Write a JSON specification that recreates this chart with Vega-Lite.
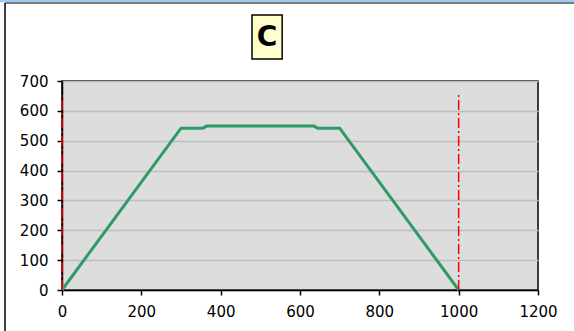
{
  "$schema": "https://vega.github.io/schema/vega-lite/v6.json",
  "width": 476,
  "height": 209,
  "autosize": {"type": "none"},
  "padding": {"left": 62, "top": 81, "right": 36, "bottom": 41},
  "background": "white",
  "config": {
    "view": {"fill": "#DDDDDD", "stroke": "black", "strokeWidth": 1.5},
    "font": "DejaVu Sans",
    "axis": {
      "title": null,
      "domainColor": "black", "domainWidth": 1.5,
      "tickColor": "black", "tickSize": 5, "tickWidth": 1.5,
      "labelFont": "DejaVu Sans", "labelFontSize": 15, "labelColor": "black",
      "labelFlush": false, "labelOverlap": false, "format": "d"
    },
    "axisX": {"grid": false, "tickCount": 6, "labelPadding": 9, "labelFontSize": 15},
    "axisY": {"grid": true, "gridColor": "#BEBEBE", "gridWidth": 1.5, "tickCount": 7, "labelPadding": 9, "labelFontSize": 15}
  },
  "datasets": {
    "profile": [
      {"x": 0, "y": 0},
      {"x": 300, "y": 542},
      {"x": 355, "y": 542},
      {"x": 365, "y": 549},
      {"x": 635, "y": 549},
      {"x": 645, "y": 542},
      {"x": 700, "y": 542},
      {"x": 1000, "y": 0}
    ],
    "limits": [
      {"x": 0, "ymin": 0, "ymax": 660},
      {"x": 1000, "ymin": 0, "ymax": 660}
    ],
    "label": [{"text": "C"}]
  },
  "layer": [
    {
      "data": {"name": "profile"},
      "mark": {"type": "line", "color": "#2E9B66", "strokeWidth": 3},
      "encoding": {
        "x": {"field": "x", "type": "quantitative", "title": null, "scale": {"domain": [0, 1200], "nice": false}},
        "y": {"field": "y", "type": "quantitative", "title": null, "scale": {"domain": [0, 700], "nice": false}}
      }
    },
    {
      "data": {"name": "limits"},
      "mark": {"type": "rule", "color": "#FF0000", "strokeWidth": 1.5, "strokeDash": [10, 3, 2, 3]},
      "encoding": {
        "x": {"field": "x", "type": "quantitative", "title": null},
        "y": {"field": "ymin", "type": "quantitative", "title": null},
        "y2": {"field": "ymax"}
      }
    },
    {
      "data": {"name": "label"},
      "mark": {"type": "rect", "fill": "#FFFFCC", "stroke": "black", "strokeWidth": 1.5},
      "encoding": {
        "x": {"datum": 479},
        "x2": {"datum": 555},
        "y": {"datum": 921},
        "y2": {"datum": 774}
      }
    },
    {
      "data": {"name": "label"},
      "mark": {"type": "text", "fontSize": 28, "fontWeight": "bold", "font": "DejaVu Sans", "color": "black", "align": "center", "baseline": "middle"},
      "encoding": {
        "x": {"datum": 517},
        "y": {"datum": 844},
        "text": {"field": "text"}
      }
    },
    {
      "data": {"name": "label"},
      "mark": {"type": "rect", "fill": "#9DC8F0"},
      "encoding": {
        "x": {"datum": -160},
        "x2": {"datum": 1295},
        "y": {"datum": 975},
        "y2": {"datum": 964}
      }
    },
    {
      "data": {"name": "label"},
      "mark": {"type": "rule", "color": "#555555", "strokeWidth": 1.5},
      "encoding": {
        "x": {"datum": -143.7},
        "x2": {"datum": 1295},
        "y": {"datum": 961}
      }
    },
    {
      "data": {"name": "label"},
      "mark": {"type": "rule", "color": "black", "strokeWidth": 1.5},
      "encoding": {
        "x": {"datum": -143.7},
        "y": {"datum": 961},
        "y2": {"datum": -145}
      }
    }
  ]
}
